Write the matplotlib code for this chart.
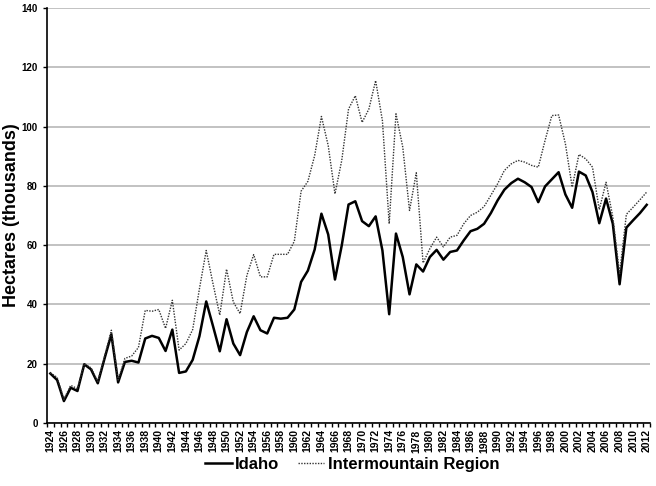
import matplotlib
matplotlib.use("Agg")
import matplotlib.pyplot as plt
import numpy as np

plt.rcParams['font.family'] = ['Liberation Sans', 'DejaVu Sans']

# Years and area burned (thousands of hectares)
years = list(range(1924, 2013))

idaho = [16.7, 14.5, 7.4, 11.9, 10.8, 19.8, 18.1, 13.4, 21.8, 29.9,
         13.7, 20.6, 21.0, 20.4, 28.5, 29.4, 28.7, 24.3, 31.5, 16.9,
         17.4, 21.3, 29.3, 41.0, 32.7, 24.2, 35.0, 26.8, 22.9, 30.7,
         36.0, 31.3, 30.2, 35.5, 35.2, 35.5, 38.3, 47.6, 51.4, 58.5,
         70.6, 63.6, 48.4, 59.9, 73.7, 74.8, 68.1, 66.4, 69.7, 58.2,
         36.7, 63.9, 56.0, 43.4, 53.5, 51.1, 56.0, 58.4, 55.1, 57.7,
         58.2, 61.6, 64.7, 65.5, 67.2, 70.8, 75.1, 78.7, 80.9, 82.4,
         81.2, 79.6, 74.5, 79.8, 82.2, 84.6, 77.1, 72.6, 84.8, 83.5,
         77.9, 67.4, 75.7, 67.2, 46.8, 65.9, 68.4, 70.8, 73.6]

region = [16.9, 15.4, 8.0, 12.7, 11.6, 20.0, 18.6, 14.0, 22.5, 31.3,
          14.5, 21.8, 22.6, 25.5, 38.0, 37.7, 38.3, 31.9, 41.4, 24.6,
          26.8, 31.5, 45.3, 58.2, 47.0, 36.4, 51.9, 40.8, 36.9, 49.8,
          56.8, 49.3, 49.3, 56.9, 56.9, 56.9, 61.3, 78.2, 81.5, 90.2,
          103.4, 93.6, 77.3, 88.6, 105.9, 110.4, 101.4, 105.9, 115.5, 102.0,
          67.2, 104.3, 93.1, 71.7, 84.4, 54.0, 58.8, 62.7, 59.4, 62.7,
          63.3, 67.2, 70.0, 71.1, 73.0, 76.8, 80.7, 85.2, 87.4, 88.6,
          88.0, 86.9, 86.3, 95.3, 103.7, 103.9, 94.2, 79.6, 90.6, 89.1,
          86.3, 72.0, 81.2, 69.5, 50.4, 70.4, 72.8, 75.3, 77.9]

x = np.arange(len(years))

fig = plt.figure(figsize=(6.56, 4.86), dpi=100)
ax = fig.add_axes([0.0716, 0.1296, 0.9194, 0.854])

ax.plot(x, idaho, color='black', linewidth=1.8, label='Idaho')
ax.plot(x, region, color='#333333', linewidth=1.0, linestyle=(0, (1, 1)),
        label='Intermountain Region')

ax.set_xlim(-0.5, len(years) - 0.5)
ax.set_ylim(0, 140)
ax.set_yticks(range(0, 141, 20))
ax.yaxis.grid(True, color='#b8b8b8', linewidth=1.2)
ax.set_axisbelow(True)

# labels every other year, tick marks between categories
ax.set_xticks(x[::2])
ax.set_xticklabels([str(y) for y in years[::2]], rotation=90,
                   fontsize=7.5, fontweight='bold')
ax.set_xticks(np.arange(-0.5, len(years), 1), minor=True)
ax.tick_params(axis='x', which='major', length=0, pad=4.5)
ax.tick_params(axis='x', which='minor', length=3, width=1, direction='out')
ax.tick_params(axis='y', length=3, width=1, labelsize=7)
for lbl in ax.get_yticklabels():
    lbl.set_fontweight('bold')

ax.spines['top'].set_visible(False)
ax.spines['right'].set_visible(False)
ax.spines['left'].set_linewidth(1.2)
ax.spines['bottom'].set_linewidth(1.2)

ax.set_ylabel('Hectares (thousands)', fontsize=13, fontweight='bold')
ax.yaxis.set_label_coords(-0.045, 0.5)

fig.legend(loc='center', bbox_to_anchor=(0.537, 0.044), ncol=2, frameon=False,
           prop={'size': 12, 'weight': 'bold'}, handlelength=1.6,
           handletextpad=0.2, columnspacing=1.1)

fig.savefig('out.png', dpi=100)
